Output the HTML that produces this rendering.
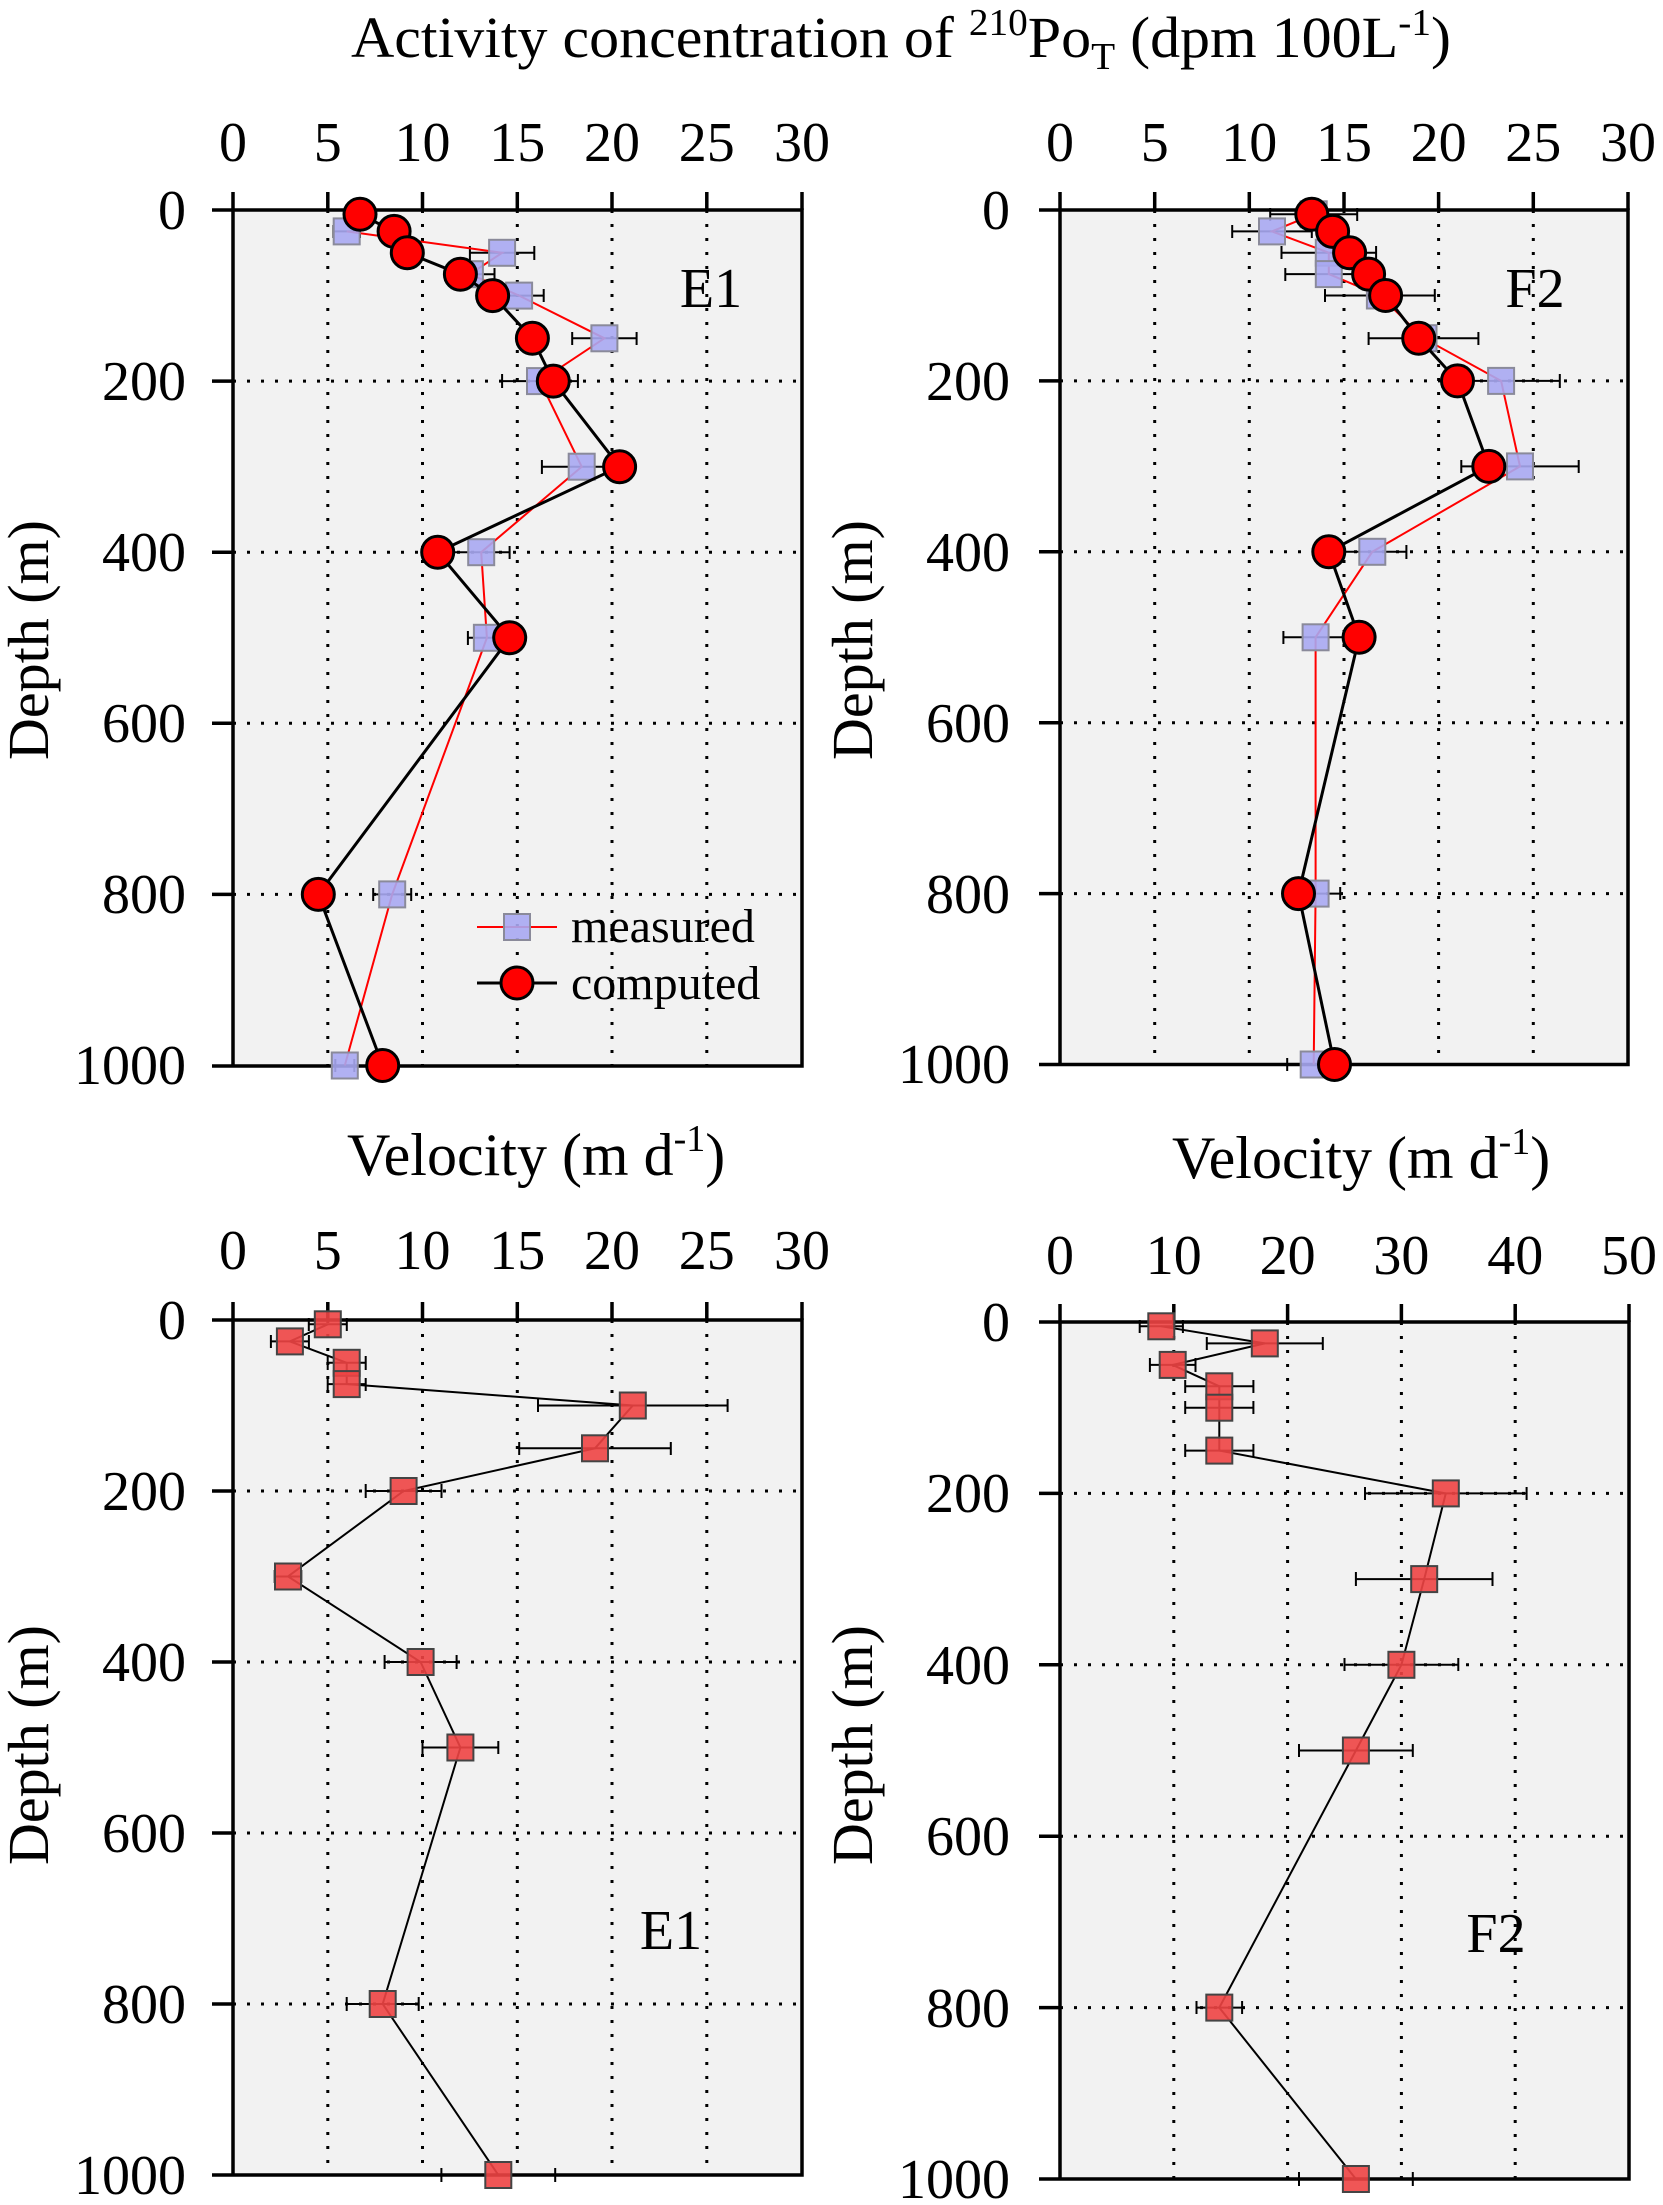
<!DOCTYPE html>
<html><head><meta charset="utf-8"><style>
html,body{margin:0;padding:0;background:#fff;}
svg{display:block;}
svg text{font-family:"Liberation Serif","Times New Roman",serif;fill:#000;}
.tk{font-size:56px;}
.gr{stroke:#000;stroke-width:3;stroke-dasharray:3 11;fill:none;}
.ax{stroke:#000;stroke-width:3.5;fill:none;}
.eb{stroke:#000;stroke-width:2;fill:none;}
.ms{fill:#a8a8f2;stroke:#8a8a9a;stroke-width:2;fill-opacity:0.9;}
.cc{fill:#ff0000;stroke:#000;stroke-width:3;}
.vs{fill:#ee4444;stroke:#444;stroke-width:2;fill-opacity:0.9;}
</style></head><body>
<svg width="1663" height="2205" viewBox="0 0 1663 2205" xmlns="http://www.w3.org/2000/svg" font-family="Liberation Serif, serif">
<!-- Title -->
<text x="351" y="57" font-size="58" textLength="1100" lengthAdjust="spacingAndGlyphs">Activity concentration of <tspan font-size="38" dy="-22">210</tspan><tspan dy="22">Po</tspan><tspan font-size="38" dy="12">T</tspan><tspan dy="-12"> (dpm 100L</tspan><tspan font-size="38" dy="-22">-1</tspan><tspan dy="22">)</tspan></text>

<!-- ============ TL panel ============ -->
<rect x="233" y="210" width="569" height="856" fill="#f2f2f2"/>
<g class="gr">
<path d="M327.8 210V1066M422.5 210V1066M517.3 210V1066M612 210V1066M706.8 210V1066"/>
<path d="M233 381.1H802M233 552.2H802M233 723.3H802M233 894.4H802"/>
</g>
<g class="ax">
<path d="M212 210H802V1066H212M233 210V1066"/>
<path d="M233 210V192M327.8 210V192M422.5 210V192M517.3 210V192M612 210V192M706.8 210V192M802 210V192"/>
<path d="M212 381.1H233M212 552.2H233M212 723.3H233M212 894.4H233"/>
</g>
<g class="tk" text-anchor="middle">
<text x="233" y="161">0</text><text x="327.8" y="161">5</text><text x="422.5" y="161">10</text><text x="517.3" y="161">15</text><text x="612" y="161">20</text><text x="706.8" y="161">25</text><text x="802" y="161">30</text>
</g>
<g class="tk" text-anchor="end">
<text x="186" y="229">0</text><text x="186" y="400">200</text><text x="186" y="571">400</text><text x="186" y="742">600</text><text x="186" y="913">800</text><text x="186" y="1084">1000</text>
</g>
<g class="eb">
<path d="M333.4 231.4H360M333.4 225V238M360 225V238"/>
<path d="M469.9 252.8H534.3M469.9 246V260M534.3 246V260"/>
<path d="M445.3 274.2H494.5M445.3 268V281M494.5 268V281"/>
<path d="M494.5 295.6H543.7M494.5 289V302M543.7 289V302"/>
<path d="M572.2 338.3H636.6M572.2 332V345M636.6 332V345"/>
<path d="M502.1 381.1H577.9M502.1 374V388M577.9 374V388"/>
<path d="M541.9 466.7H621.5M541.9 460V474M621.5 460V474"/>
<path d="M452.8 552.2H509.6M452.8 546V559M509.6 546V559"/>
<path d="M467.9 637.8H505.9M467.9 631V645M505.9 631V645"/>
<path d="M373.2 894.4H411.2M373.2 888V901M411.2 888V901"/>
<path d="M335.3 1065.5H354.3M335.3 1059V1072M354.3 1059V1072"/>
</g>
<polyline fill="none" stroke="#ff0000" stroke-width="2" points="346.7,231.4 502.1,252.8 469.9,274.2 519.1,295.6 604.4,338.3 540,381.1 581.7,466.7 481.2,552.2 486.9,637.8 392.2,894.4 344.8,1065.5"/>
<g class="ms">
<rect x="333.7" y="218.4" width="26" height="26"/><rect x="489.1" y="239.8" width="26" height="26"/><rect x="456.9" y="261.2" width="26" height="26"/><rect x="506.1" y="282.6" width="26" height="26"/><rect x="591.4" y="325.3" width="26" height="26"/><rect x="527" y="368.1" width="26" height="26"/><rect x="568.7" y="453.7" width="26" height="26"/><rect x="468.2" y="539.2" width="26" height="26"/><rect x="473.9" y="624.8" width="26" height="26"/><rect x="379.2" y="881.4" width="26" height="26"/><rect x="331.8" y="1052.5" width="26" height="26"/>
</g>
<polyline fill="none" stroke="#000" stroke-width="3" points="360,214.3 394.1,231.4 407.3,252.8 460.4,274.2 492.6,295.6 532.4,338.3 553.3,381.1 619.6,466.7 437.7,552.2 509.7,637.8 318.3,894.4 382.7,1065.5"/>
<g class="cc">
<circle cx="360" cy="214.3" r="16"/><circle cx="394.1" cy="231.4" r="16"/><circle cx="407.3" cy="252.8" r="16"/><circle cx="460.4" cy="274.2" r="16"/><circle cx="492.6" cy="295.6" r="16"/><circle cx="532.4" cy="338.3" r="16"/><circle cx="553.3" cy="381.1" r="16"/><circle cx="619.6" cy="466.7" r="16"/><circle cx="437.7" cy="552.2" r="16"/><circle cx="509.7" cy="637.8" r="16"/><circle cx="318.3" cy="894.4" r="16"/><circle cx="382.7" cy="1065.5" r="16"/>
</g>
<text x="711" y="307" font-size="56" text-anchor="middle">E1</text>
<!-- legend -->
<line x1="477" y1="927" x2="557" y2="927" stroke="#ff0000" stroke-width="2"/>
<rect x="504" y="914" width="26" height="26" class="ms"/>
<text x="571" y="942" font-size="48">measured</text>
<line x1="477" y1="983" x2="557" y2="983" stroke="#000" stroke-width="3"/>
<circle cx="517" cy="983" r="16" class="cc"/>
<text x="571" y="999" font-size="48">computed</text>
<text transform="translate(48,640) rotate(-90)" font-size="58" text-anchor="middle">Depth (m)</text>

<!-- ============ TR panel ============ -->
<rect x="1060" y="210" width="568" height="855" fill="#f2f2f2"/>
<g class="gr">
<path d="M1154.7 210V1065M1249.3 210V1065M1344 210V1065M1438.6 210V1065M1533.3 210V1065"/>
<path d="M1060 380.9H1628M1060 551.8H1628M1060 722.7H1628M1060 893.6H1628"/>
</g>
<g class="ax">
<path d="M1039 210H1628V1064.5H1039M1060 210V1064.5"/>
<path d="M1060 210V192M1154.7 210V192M1249.3 210V192M1344 210V192M1438.6 210V192M1533.3 210V192M1628 210V192"/>
<path d="M1039 380.9H1060M1039 551.8H1060M1039 722.7H1060M1039 893.6H1060"/>
</g>
<g class="tk" text-anchor="middle">
<text x="1060" y="161">0</text><text x="1154.7" y="161">5</text><text x="1249.3" y="161">10</text><text x="1344" y="161">15</text><text x="1438.6" y="161">20</text><text x="1533.3" y="161">25</text><text x="1628" y="161">30</text>
</g>
<g class="tk" text-anchor="end">
<text x="1010" y="229">0</text><text x="1010" y="400">200</text><text x="1010" y="571">400</text><text x="1010" y="742">600</text><text x="1010" y="913">800</text><text x="1010" y="1083">1000</text>
</g>
<g class="eb">
<path d="M1270.2 214.3H1357.2M1270.2 208V221M1357.2 208V221"/>
<path d="M1232.2 231.4H1311.8M1232.2 225V238M1311.8 225V238"/>
<path d="M1281.5 252.7H1376.1M1281.5 246V259M1376.1 246V259"/>
<path d="M1285.3 274.1H1372.3M1285.3 268V281M1372.3 268V281"/>
<path d="M1325 295.5H1434.8M1325 289V302M1434.8 289V302"/>
<path d="M1368.6 338.2H1478.4M1368.6 332V345M1478.4 332V345"/>
<path d="M1442.4 380.9H1559.8M1442.4 374V388M1559.8 374V388"/>
<path d="M1461.3 466.4H1578.7M1461.3 460V473M1578.7 460V473"/>
<path d="M1338.2 551.8H1406.4M1338.2 545V559M1406.4 545V559"/>
<path d="M1283.4 637.3H1347.8M1283.4 631V644M1347.8 631V644"/>
<path d="M1291 893.6H1340.2M1291 887V900M1340.2 887V900"/>
<path d="M1287.2 1064.5H1340.2M1287.2 1058V1071M1340.2 1058V1071"/>
</g>
<polyline fill="none" stroke="#ff0000" stroke-width="2" points="1313.7,214.3 1272,231.4 1328.8,252.7 1328.8,274.1 1379.9,295.5 1423.5,338.2 1501.1,380.9 1520,466.4 1372.3,551.8 1315.6,637.3 1315.6,893.6 1313.7,1064.5"/>
<g class="ms">
<rect x="1300.7" y="201.3" width="26" height="26"/><rect x="1259" y="218.4" width="26" height="26"/><rect x="1315.8" y="239.7" width="26" height="26"/><rect x="1315.8" y="261.1" width="26" height="26"/><rect x="1366.9" y="282.5" width="26" height="26"/><rect x="1410.5" y="325.2" width="26" height="26"/><rect x="1488.1" y="367.9" width="26" height="26"/><rect x="1507" y="453.4" width="26" height="26"/><rect x="1359.3" y="538.8" width="26" height="26"/><rect x="1302.6" y="624.3" width="26" height="26"/><rect x="1302.6" y="880.6" width="26" height="26"/><rect x="1300.7" y="1051.5" width="26" height="26"/>
</g>
<polyline fill="none" stroke="#000" stroke-width="3" points="1311.8,214.3 1332.6,231.4 1349.6,252.7 1368.6,274.1 1385.6,295.5 1418.7,338.2 1457.5,380.9 1488.8,466.4 1328.8,551.8 1359.1,637.3 1298.5,893.6 1334.5,1064.5"/>
<g class="cc">
<circle cx="1311.8" cy="214.3" r="16"/><circle cx="1332.6" cy="231.4" r="16"/><circle cx="1349.6" cy="252.7" r="16"/><circle cx="1368.6" cy="274.1" r="16"/><circle cx="1385.6" cy="295.5" r="16"/><circle cx="1418.7" cy="338.2" r="16"/><circle cx="1457.5" cy="380.9" r="16"/><circle cx="1488.8" cy="466.4" r="16"/><circle cx="1328.8" cy="551.8" r="16"/><circle cx="1359.1" cy="637.3" r="16"/><circle cx="1298.5" cy="893.6" r="16"/><circle cx="1334.5" cy="1064.5" r="16"/>
</g>
<text x="1535" y="307" font-size="56" text-anchor="middle">F2</text>
<text transform="translate(872,640) rotate(-90)" font-size="58" text-anchor="middle">Depth (m)</text>

<!-- Velocity labels -->
<text x="347" y="1175" font-size="60">Velocity (m d<tspan font-size="38" dy="-24">-1</tspan><tspan dy="24">)</tspan></text>
<text x="1172" y="1178" font-size="60">Velocity (m d<tspan font-size="38" dy="-24">-1</tspan><tspan dy="24">)</tspan></text>

<!-- ============ BL panel ============ -->
<rect x="233" y="1320" width="569" height="855" fill="#f2f2f2"/>
<g class="gr">
<path d="M327.8 1320V2175M422.5 1320V2175M517.3 1320V2175M612 1320V2175M706.8 1320V2175"/>
<path d="M233 1491H802M233 1662H802M233 1833H802M233 2004H802"/>
</g>
<g class="ax">
<path d="M212 1320H802V2175H212M233 1320V2175"/>
<path d="M233 1320V1302M327.8 1320V1302M422.5 1320V1302M517.3 1320V1302M612 1320V1302M706.8 1320V1302M802 1320V1302"/>
<path d="M212 1491H233M212 1662H233M212 1833H233M212 2004H233"/>
</g>
<g class="tk" text-anchor="middle">
<text x="233" y="1269">0</text><text x="327.8" y="1269">5</text><text x="422.5" y="1269">10</text><text x="517.3" y="1269">15</text><text x="612" y="1269">20</text><text x="706.8" y="1269">25</text><text x="802" y="1269">30</text>
</g>
<g class="tk" text-anchor="end">
<text x="186" y="1339">0</text><text x="186" y="1510">200</text><text x="186" y="1681">400</text><text x="186" y="1852">600</text><text x="186" y="2023">800</text><text x="186" y="2194">1000</text>
</g>
<g class="eb">
<path d="M308.8 1324.3H346.8M308.8 1318V1331M346.8 1318V1331"/>
<path d="M270.9 1341.4H308.9M270.9 1335V1348M308.9 1335V1348"/>
<path d="M327.7 1362.8H365.7M327.7 1356V1370M365.7 1356V1370"/>
<path d="M327.7 1384.1H365.7M327.7 1378V1391M365.7 1378V1391"/>
<path d="M538 1405.5H727.6M538 1399V1412M727.6 1399V1412"/>
<path d="M519.2 1448.3H670.8M519.2 1442V1455M670.8 1442V1455"/>
<path d="M365.7 1491H441.5M365.7 1484V1498M441.5 1484V1498"/>
<path d="M274.7 1576.5H301.3M274.7 1570V1583M301.3 1570V1583"/>
<path d="M384.6 1662H456.6M384.6 1655V1669M456.6 1655V1669"/>
<path d="M422.5 1747.5H498.3M422.5 1741V1754M498.3 1741V1754"/>
<path d="M346.7 2004H418.7M346.7 1997V2011M418.7 1997V2011"/>
<path d="M441.4 2175H555.2M441.4 2168V2182M555.2 2168V2182"/>
</g>
<polyline fill="none" stroke="#000" stroke-width="2" points="327.8,1324.3 289.9,1341.4 346.7,1362.8 346.7,1384.1 632.8,1405.5 595,1448.3 403.6,1491 288,1576.5 420.6,1662 460.4,1747.5 382.7,2004 498.3,2175"/>
<g class="vs">
<rect x="314.8" y="1311.3" width="26" height="26"/><rect x="276.9" y="1328.4" width="26" height="26"/><rect x="333.7" y="1349.8" width="26" height="26"/><rect x="333.7" y="1371.1" width="26" height="26"/><rect x="619.8" y="1392.5" width="26" height="26"/><rect x="582" y="1435.3" width="26" height="26"/><rect x="390.6" y="1478" width="26" height="26"/><rect x="275" y="1563.5" width="26" height="26"/><rect x="407.6" y="1649" width="26" height="26"/><rect x="447.4" y="1734.5" width="26" height="26"/><rect x="369.7" y="1991" width="26" height="26"/><rect x="485.3" y="2162" width="26" height="26"/>
</g>
<text x="671" y="1949" font-size="56" text-anchor="middle">E1</text>
<text transform="translate(48,1745) rotate(-90)" font-size="58" text-anchor="middle">Depth (m)</text>

<!-- ============ BR panel ============ -->
<rect x="1060" y="1322" width="569" height="857" fill="#f2f2f2"/>
<g class="gr">
<path d="M1173.8 1322V2179M1287.6 1322V2179M1401.4 1322V2179M1515.2 1322V2179"/>
<path d="M1060 1493.4H1629M1060 1664.8H1629M1060 1836.2H1629M1060 2007.6H1629"/>
</g>
<g class="ax">
<path d="M1039 1322H1629V2179H1039M1060 1322V2179"/>
<path d="M1060 1322V1304M1173.8 1322V1304M1287.6 1322V1304M1401.4 1322V1304M1515.2 1322V1304M1629 1322V1304"/>
<path d="M1039 1493.4H1060M1039 1664.8H1060M1039 1836.2H1060M1039 2007.6H1060"/>
</g>
<g class="tk" text-anchor="middle">
<text x="1060" y="1274">0</text><text x="1173.8" y="1274">10</text><text x="1287.6" y="1274">20</text><text x="1401.4" y="1274">30</text><text x="1515.2" y="1274">40</text><text x="1629" y="1274">50</text>
</g>
<g class="tk" text-anchor="end">
<text x="1010" y="1341">0</text><text x="1010" y="1512">200</text><text x="1010" y="1684">400</text><text x="1010" y="1855">600</text><text x="1010" y="2027">800</text><text x="1010" y="2198">1000</text>
</g>
<g class="eb">
<path d="M1139.7 1326.3H1182.9M1139.7 1320V1333M1182.9 1320V1333"/>
<path d="M1206.8 1343.4H1322.8M1206.8 1337V1350M1322.8 1337V1350"/>
<path d="M1149.9 1364.9H1195.5M1149.9 1358V1372M1195.5 1358V1372"/>
<path d="M1185.2 1386.3H1253.4M1185.2 1380V1393M1253.4 1380V1393"/>
<path d="M1185.2 1407.7H1253.4M1185.2 1401V1414M1253.4 1401V1414"/>
<path d="M1185.2 1450.6H1253.4M1185.2 1444V1457M1253.4 1444V1457"/>
<path d="M1365 1493.4H1526.6M1365 1487V1500M1526.6 1487V1500"/>
<path d="M1355.9 1579.1H1492.5M1355.9 1572V1586M1492.5 1572V1586"/>
<path d="M1344.5 1664.8H1458.3M1344.5 1658V1671M1458.3 1658V1671"/>
<path d="M1299 1750.5H1412.8M1299 1744V1757M1412.8 1744V1757"/>
<path d="M1196.5 2007.6H1242.1M1196.5 2001V2014M1242.1 2001V2014"/>
<path d="M1299 2179H1412.8M1299 2172V2186M1412.8 2172V2186"/>
</g>
<polyline fill="none" stroke="#000" stroke-width="2" points="1161.3,1326.3 1264.8,1343.4 1172.7,1364.9 1219.3,1386.3 1219.3,1407.7 1219.3,1450.6 1445.8,1493.4 1424.2,1579.1 1401.4,1664.8 1355.9,1750.5 1219.3,2007.6 1355.9,2179"/>
<g class="vs">
<rect x="1148.3" y="1313.3" width="26" height="26"/><rect x="1251.8" y="1330.4" width="26" height="26"/><rect x="1159.7" y="1351.9" width="26" height="26"/><rect x="1206.3" y="1373.3" width="26" height="26"/><rect x="1206.3" y="1394.7" width="26" height="26"/><rect x="1206.3" y="1437.6" width="26" height="26"/><rect x="1432.8" y="1480.4" width="26" height="26"/><rect x="1411.2" y="1566.1" width="26" height="26"/><rect x="1388.4" y="1651.8" width="26" height="26"/><rect x="1342.9" y="1737.5" width="26" height="26"/><rect x="1206.3" y="1994.6" width="26" height="26"/><rect x="1342.9" y="2166" width="26" height="26"/>
</g>
<text x="1496" y="1952" font-size="56" text-anchor="middle">F2</text>
<text transform="translate(872,1745) rotate(-90)" font-size="58" text-anchor="middle">Depth (m)</text>
</svg>
</body></html>
